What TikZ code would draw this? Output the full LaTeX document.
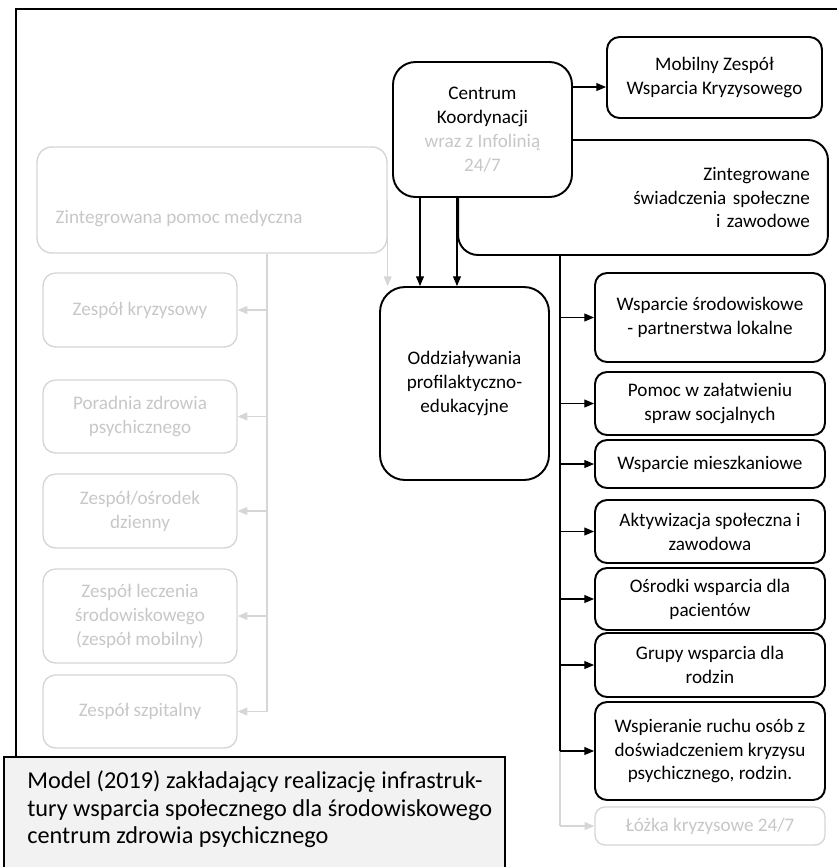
\documentclass[tikz,border=0pt]{standalone}
\usepackage{fontspec}
\setmainfont{Carlito}
\usepackage{tikz}
\usetikzlibrary{arrows.meta,positioning,calc}
\definecolor{paleline}{gray}{0.84}
\definecolor{paletext}{gray}{0.78}
\definecolor{capfill}{gray}{0.95}

\begin{document}
\begin{tikzpicture}[
    x=0.02cm, y=-0.02cm,
    box/.style={rectangle, draw, line width=1.1pt, fill=white, align=center, inner sep=0pt, font=\fontsize{10.9}{13.6}\selectfont},
    sidebox/.style={box, rounded corners=0.24cm, minimum width=4.6cm},
    palebox/.style={rectangle, draw=paleline, line width=0.8pt, rounded corners=0.25cm, align=center, inner sep=0pt, text=paletext, font=\fontsize{10.9}{13.6}\selectfont, minimum width=3.88cm},
    edge/.style={-{Triangle[length=5.5pt,width=4.5pt]}, line width=0.6pt},
    paleedge/.style={edge, paleline}
]
\useasboundingbox (0,0) rectangle (837,867);
\draw[line width=0.6pt] (837,9) -- (16,9) -- (16,757);

\node[box, rounded corners=0.4cm, minimum width=7.4cm, minimum height=2.3cm, text width=6.68cm, inner xsep=0.36cm, align=right] (zint) at (643,197.5) {Zintegrowane\\świadczenia społeczne\\i zawodowe};
\node[box, rounded corners=0.45cm, minimum width=3.58cm, minimum height=2.7cm] (centrum) at (482.5,129.5) {Centrum\\Koordynacji\\\textcolor{paletext}{wraz z Infolinią}\\\textcolor{paletext}{24/7}};
\node[box, rounded corners=0.25cm, minimum width=4.3cm, minimum height=1.62cm] (mobilny) at (714.5,77.5) {Mobilny Zespół\\Wsparcia Kryzysowego};
\node[box, rounded corners=0.5cm, minimum width=3.38cm, minimum height=3.86cm] (oddz) at (464.5,383.5) {Oddziaływania\\profilaktyczno-\\edukacyjne};

\node[sidebox, minimum height=1.78cm] (wsr) at (710,317.5) {Wsparcie środowiskowe\\- partnerstwa lokalne};
\node[sidebox, minimum height=1.26cm] (sprawy) at (710,403.5) {Pomoc w załatwieniu\\spraw socjalnych};
\node[sidebox, minimum height=0.96cm] (mieszk) at (710,464) {Wsparcie mieszkaniowe};
\node[sidebox, minimum height=1.26cm] (aktyw) at (710,531.5) {Aktywizacja społeczna i\\zawodowa};
\node[sidebox, minimum height=1.24cm] (osrodki) at (710,599) {Ośrodki wsparcia dla\\pacientów};
\node[sidebox, minimum height=1.28cm] (grupy) at (710,665) {Grupy wsparcia dla\\rodzin};
\node[sidebox, minimum height=1.96cm] (ruch) at (710,751) {Wspieranie ruchu osób z\\doświadczeniem kryzysu\\psychicznego, rodzin.};
\node[palebox, rounded corners=0.2cm, minimum width=4.6cm, minimum height=0.76cm] (lozka) at (710,826) {Łóżka kryzysowe 24/7};

\node[palebox, rounded corners=0.3cm, minimum width=7cm, minimum height=2.12cm] (pomoc) at (212,200) {};
\node[palebox, draw=none, anchor=west, minimum width=0pt] (pomoclabel) at (55,218) {Zintegrowana pomoc medyczna};
\node[palebox, minimum height=1.48cm] (kryz) at (140,310) {Zespół kryzysowy};
\node[palebox, minimum height=1.46cm] (poradnia) at (140,416.5) {Poradnia zdrowia\\psychicznego};
\node[palebox, minimum height=1.48cm] (dzienny) at (140,511) {Zespół/ośrodek\\dzienny};
\node[palebox, minimum height=1.88cm] (leczenie) at (140,616) {Zespół leczenia\\środowiskowego\\(zespół mobilny)};
\node[palebox, minimum height=1.46cm] (szpital) at (140,711.5) {Zespół szpitalny};

\coordinate (mrow) at (0,87);
\coordinate (ax) at (420,0);
\coordinate (bx) at (457,0);
\coordinate (sx) at (560,0);
\coordinate (gx) at (267,0);

\draw[edge] (centrum.east |- mrow) -- (mobilny.west |- mrow);
\draw[edge] (centrum.south -| ax) -- (oddz.north -| ax);
\draw[edge] (centrum.south -| bx) -- (oddz.north -| bx);
\draw[paleedge] (pomoc.east) -- (oddz.north -| pomoc.east);

\draw[line width=0.6pt] (zint.south -| sx) -- (ruch.west -| sx);
\draw[paleline, line width=0.6pt] (ruch.west -| sx) -- (lozka.west -| sx);
\draw[edge] (wsr.west -| sx) -- (wsr.west);
\draw[edge] (sprawy.west -| sx) -- (sprawy.west);
\draw[edge] (mieszk.west -| sx) -- (mieszk.west);
\draw[edge] (aktyw.west -| sx) -- (aktyw.west);
\draw[edge] (osrodki.west -| sx) -- (osrodki.west);
\draw[edge] (grupy.west -| sx) -- (grupy.west);
\draw[edge] (ruch.west -| sx) -- (ruch.west);
\draw[paleedge] (lozka.west -| sx) -- (lozka.west);

\draw[paleline, line width=0.8pt] (pomoc.south -| gx) -- (szpital.east -| gx);
\draw[paleedge] (kryz.east -| gx) -- (kryz.east);
\draw[paleedge] (poradnia.east -| gx) -- (poradnia.east);
\draw[paleedge] (dzienny.east -| gx) -- (dzienny.east);
\draw[paleedge] (leczenie.east -| gx) -- (leczenie.east);
\draw[paleedge] (szpital.east -| gx) -- (szpital.east);

\draw[line width=0.8pt, fill=capfill] (4,757) rectangle (505,890);
\node[anchor=north west, align=left, inner sep=0pt, font=\fontsize{13.8}{15.9}\selectfont] (caption) at (27,770) {Model (2019) zakładający realizację infrastruk-\\tury wsparcia społecznego dla środowiskowego\\centrum zdrowia psychicznego};
\end{tikzpicture}
\end{document}
